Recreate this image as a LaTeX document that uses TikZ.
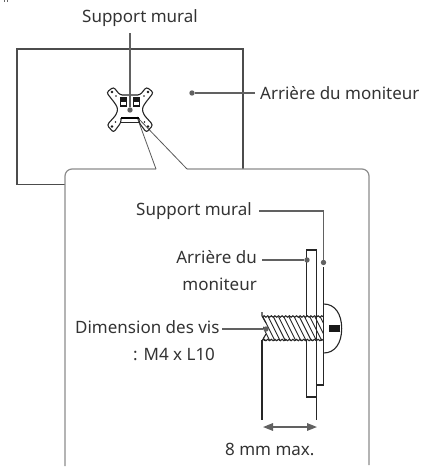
\documentclass[tikz,border=0pt]{standalone}
\usepackage{fontspec}
\setmainfont{Noto Sans}
\usetikzlibrary{decorations.pathmorphing,arrows.meta}
\definecolor{ink}{gray}{0.2}
\definecolor{lead}{gray}{0.38}
\tikzset{
  txt/.style={inner sep=0pt,text=ink,font=\fontsize{17}{19}\selectfont},
  leader/.style={draw=lead,line width=1.5pt},
  pin/.style={circle,fill=lead,draw=none,inner sep=0pt,minimum size=5.4pt},
  frame/.style={draw=black!70,line width=1.1pt},
  callout/.style={draw=black!45,line width=1.2pt,rounded corners=7pt},
  zoomline/.style={draw=black!65,line width=0.8pt},
  part/.style={draw=black!85,line width=1.1pt},
  mountline/.style={draw=black!85,line width=1.1pt,rounded corners=2.5pt},
  thread/.style={draw=black!85,line width=1.1pt,decorate,decoration={snake,segment length=3.6pt,amplitude=0.7pt}},
}
\begin{document}
\begin{tikzpicture}[x=1pt,y=-1pt]
\useasboundingbox (0,0) rectangle (422,467);
% stray marks
\draw[black!60,line width=0.6pt] (4,0) -- (4,1.6) (7,0) -- (7,1.6);
% monitor
\draw[frame] (243,169) -- (243,49) -- (17,49) -- (17,184.5) -- (65,184.5);
% callout
\draw[callout] (65,466) -- (65,169) -- (156,169);
\draw[callout] (187,169) -- (369,169) -- (369,465);
\coordinate (zs) at (137,117);
\coordinate (za) at (156,169);
\coordinate (zb) at (187,169);
\draw[zoomline] (zs) -- (za);
\draw[zoomline] (zs) -- (zb);
% mount
\foreach \s in {1,-1}{
\begin{scope}[shift={(130,0)},xscale=\s]
  \draw[mountline] (0,95) -- (-10,95) -- (-16.5,87) -- (-23.5,92.5) -- (-14.5,104) -- (-12,109) -- (-14,115) -- (-23,125) -- (-16.5,132.5) -- (-9,122.5) -- (-9,118);
  \draw[black!90,line width=1.1pt] (-9.5,98) rectangle (-3.8,106);
  \fill[black!90] (-9.5,98) rectangle (-3.8,101.5);
  \fill[black!90] (-18,92) circle (1.3) (-14,96) circle (0.9) (-14.5,122) circle (0.9) (-18,126.5) circle (1.3);
\end{scope}}
\draw[black,line width=2pt] (121,118) -- (139,118);
\draw[black!85,line width=1pt] (121,122.5) -- (139,122.5);
% top labels
\node[txt,anchor=base west] (t1) at (82,22) {Support mural};
\node[txt,anchor=base west] (t2) at (260,99) {Arrière du moniteur};
\node[pin] (p1) at (130,110) {};
\node[pin] (p2) at (192,93) {};
\coordinate (p1s) at (130,33);
\coordinate (p2s) at (255,93);
\draw[leader] (p1s) -- (p1);
\draw[leader] (p2s) -- (p2);
% screw body
\begin{scope}
  \clip (263,317) rectangle (323.5,340);
  \foreach \i in {0,...,18}{
    \draw[black!85,line width=0.9pt] ({245+\i*5.2},312) -- ({245+\i*5.2+16},344);
  }
\end{scope}
\draw[thread] (263,316.5) -- (323.5,316.5);
\draw[thread] (263,340) -- (323.5,340);
% dimension lines + plates
\draw[part] (262,312) -- (262,316) -- (266,323);
\draw[part] (262,340) -- (262,420);
\draw[part] (262,341) -- (266,334);
\draw[part] (306.7,316) -- (306.7,250) -- (316.7,250) -- (316.7,420);
\draw[part] (306.7,340) -- (306.7,397) -- (316.7,397);
\draw[part] (323.7,267) -- (323.7,385) -- (316.7,385);
% screw head
\draw[part] (323.7,304) .. controls (335,304) and (341.7,314) .. (341.7,328.5) .. controls (341.7,343) and (335,353) .. (323.7,353);
\fill[black!90] (329,325) rectangle (339.5,332);
% detail labels
\node[txt,anchor=base west] (t3) at (136,215) {Support mural};
\node[txt,anchor=base east] (t4) at (257,263) {Arrière du};
\node[txt,anchor=base east] (t5) at (257,290) {moniteur};
\node[txt,anchor=base west] (t6) at (75,333) {Dimension des vis};
\node[txt,anchor=base west] (t7) at (133,360) {: M4 x L10};
\node[txt,anchor=base west] (t8) at (225,455) {8 mm max.};
\node[pin] (d1) at (323.5,262.5) {};
\node[pin] (d2) at (307,260) {};
\node[pin] (d3) at (266,329) {};
\coordinate (l1) at (259,211);
\coordinate (l2) at (262,260);
\coordinate (l3) at (222,329);
\draw[leader] (l1) -| (d1);
\draw[leader] (l2) -- (d2);
\draw[leader] (l3) -- (d3);
% dimension arrow
\coordinate (a1) at (263,427);
\coordinate (a2) at (317,427);
\draw[leader,{Triangle[width=7.5pt,length=10pt]}-{Triangle[width=7.5pt,length=10pt]}] (a1) -- (a2);
\end{tikzpicture}
\end{document}
